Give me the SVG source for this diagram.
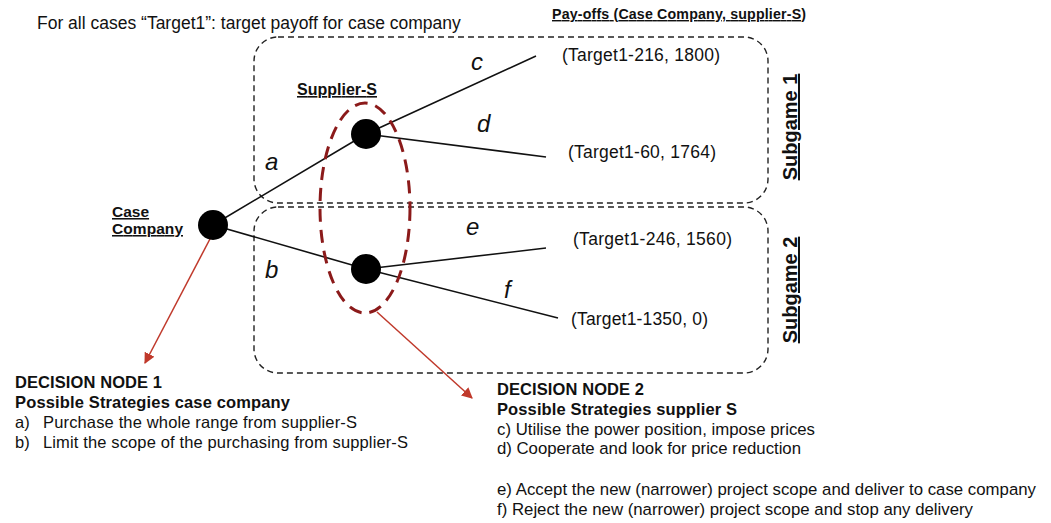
<svg xmlns="http://www.w3.org/2000/svg" width="1051" height="523" viewBox="0 0 1051 523">
<style>
text{font-family:"Liberation Sans",Arial,sans-serif;fill:#111}
.b{font-weight:bold}
.u{text-decoration:underline}
.lbl{font-size:24px;font-style:italic}
.pay{font-size:17.5px}
.box{fill:none;stroke:#222;stroke-width:1.4;stroke-dasharray:6,4}
.edge{stroke:#111;stroke-width:1.6;fill:none}
.node{fill:#000}
.red{stroke:#c0392b;stroke-width:1.5;fill:none}
.h{font-size:16.5px}
.t{font-size:16.5px}
.t2{font-size:16.8px}
</style>
<defs>
<marker id="ah" viewBox="0 0 10 10" refX="9" refY="5" markerWidth="11" markerHeight="11" markerUnits="userSpaceOnUse" orient="auto">
<path d="M0,0 L10,5 L0,10 z" fill="#c0392b"/>
</marker>
</defs>
<rect width="1051" height="523" fill="#fff"/>
<text x="37" y="29" style="font-size:17.5px">For all cases “Target1”: target payoff for case company</text>
<text x="552" y="19" class="b u" style="font-size:14.2px" textLength="254">Pay-offs (Case Company, supplier-S)</text>
<g id="subgame1">
<rect x="254" y="37" width="514" height="166" rx="24" class="box"/>
<text transform="translate(797,127) rotate(-90)" text-anchor="middle" class="b u" style="font-size:20px">Subgame 1</text>
</g>
<g id="subgame2">
<rect x="254" y="207" width="514" height="166" rx="24" class="box"/>
<text transform="translate(797,290) rotate(-90)" text-anchor="middle" class="b u" style="font-size:20px">Subgame 2</text>
</g>
<g id="connectors">
<path class="edge" d="M213,225 L366,134 L536,56"/>
<path class="edge" d="M366,134 L546,157"/>
<path class="edge" d="M213,225 L366,269 L558,318"/>
<path class="edge" d="M366,269 L546,248"/>
<text x="471" y="70" class="lbl">c</text>
<text x="477" y="132" class="lbl">d</text>
<text x="265" y="170" class="lbl">a</text>
<text x="466" y="235" class="lbl">e</text>
<text x="265" y="278" class="lbl">b</text>
<text x="504" y="298" class="lbl">f</text>
<line class="red" x1="211" y1="237" x2="145" y2="363" marker-end="url(#ah)"/>
<line class="red" x1="377" y1="312" x2="472" y2="398" marker-end="url(#ah)"/>
</g>
<g id="infoset">
<ellipse cx="365" cy="208" rx="45" ry="105" fill="none" stroke="#8b1a1a" stroke-width="3" stroke-dasharray="13,8"/>
<text x="297" y="95" class="b u" style="font-size:16px" textLength="80">Supplier-S</text>
</g>
<g id="case-company">
<circle cx="213" cy="225" r="15" class="node"/>
<text x="112" y="217" class="b u" style="font-size:15.5px">Case</text>
<text x="112" y="234" class="b u" style="font-size:15.5px" textLength="71">Company</text>
</g>
<g id="supplier-top">
<circle cx="366" cy="134" r="15" class="node"/>
</g>
<g id="supplier-bottom">
<circle cx="366" cy="269" r="15" class="node"/>
</g>
<g id="payoffs">
<text x="562" y="61" class="pay" textLength="158">(Target1-216, 1800)</text>
<text x="568" y="158" class="pay" textLength="148">(Target1-60, 1764)</text>
<text x="573" y="245" class="pay" textLength="159">(Target1-246, 1560)</text>
<text x="571" y="325" class="pay" textLength="137">(Target1-1350, 0)</text>
</g>
<g id="decision1">
<text x="15" y="388" class="b h" textLength="147">DECISION NODE 1</text>
<text x="15" y="408" class="b h" textLength="275">Possible Strategies case company</text>
<text x="15" y="428" class="t">a)</text>
<text x="43" y="428" class="t" textLength="314">Purchase the whole range from supplier-S</text>
<text x="15" y="448" class="t">b)</text>
<text x="43" y="448" class="t" textLength="365">Limit the scope of the purchasing from supplier-S</text>
</g>
<g id="decision2">
<text x="497" y="395" class="b h" textLength="147">DECISION NODE 2</text>
<text x="497" y="415" class="b h" textLength="240">Possible Strategies supplier S</text>
<text x="497" y="435" class="t2" textLength="318">c) Utilise the power position, impose prices</text>
<text x="497" y="454" class="t2" textLength="304">d) Cooperate and look for price reduction</text>
<text x="497" y="495" class="t2" textLength="539">e) Accept the new (narrower) project scope and deliver to case company</text>
<text x="497" y="515" class="t2" textLength="476">f) Reject the new (narrower) project scope and stop any delivery</text>
</g>
</svg>
